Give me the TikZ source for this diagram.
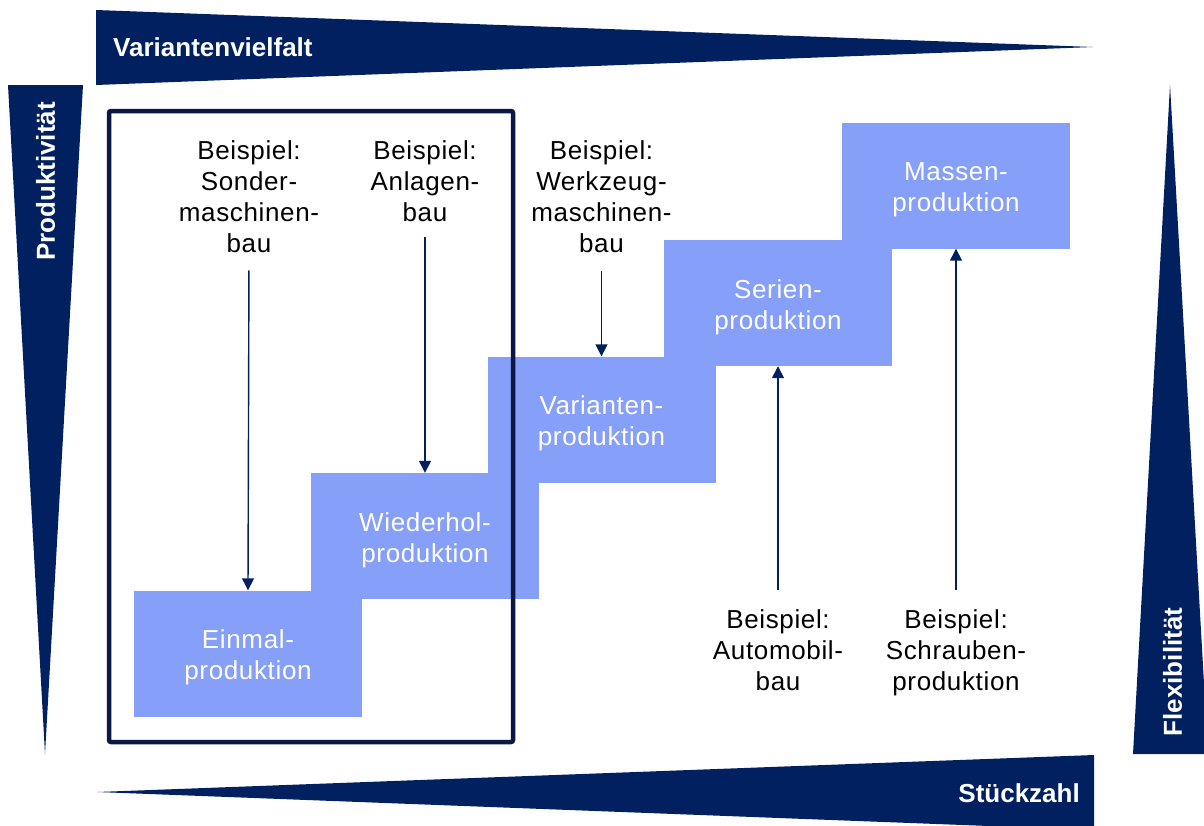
\documentclass[tikz,border=0pt]{standalone}
\usepackage{fontspec}
\setmainfont{Liberation Sans}
\newfontfamily\spacedfont[LetterSpace=2.5]{Liberation Sans}
\usetikzlibrary{arrows.meta}
\definecolor{navy}{HTML}{002060}
\definecolor{stepblue}{HTML}{869FF8}
\definecolor{framenavy}{HTML}{0B1846}
% strut that pushes the two-line stage labels slightly downwards
\newcommand\stagestrut{\rule{0pt}{27pt}}

\begin{document}
\begin{tikzpicture}[x=1pt,y=-1pt,
  wedge/.style={fill=navy},
  axislabel/.style={text=white,inner sep=0pt,font=\fontsize{26}{31}\selectfont\bfseries},
  stage/.style={fill=stepblue,minimum width=228pt,minimum height=126pt,inner sep=0pt,
    text=white,align=center,font=\spacedfont\fontsize{26}{31}\selectfont},
  example/.style={align=center,inner sep=0pt,anchor=north,font=\spacedfont\fontsize{26}{31}\selectfont},
  link/.style={navy,line width=1.4pt,-{Triangle[width=12pt,length=12pt]}},
  frame/.style={framenavy,line width=4.5pt,rounded corners=2pt}
]
\useasboundingbox (0,0) rectangle (1204,825);
\clip (0,0) rectangle (1204,825);

% axis wedges
\fill[wedge] (96,10) -- (1093,47) -- (96,85) -- cycle;
\fill[wedge] (8,85) -- (83,85) -- (45,754) -- cycle;
\fill[wedge] (1170,85) -- (1208,754) -- (1133,754) -- cycle;
\fill[wedge] (97,792) -- (1094,755) -- (1094,830) -- cycle;

\node[axislabel,anchor=west] (vielfalt) at (113,47.5) {Variantenvielfalt};
\node[axislabel,rotate=90] (produkt) at (45.5,181.5) {Produktivität};
\node[axislabel,rotate=90] (flex) at (1172.5,672) {Flexibilität};
\node[axislabel,anchor=east] (stueck) at (1080,793.5) {Stückzahl};

% production stages (staircase)
\node[stage] (einmal)  at (248,653.5) {\stagestrut Einmal-\\produktion};
\node[stage] (wieder)  at (425,536)   {\stagestrut Wiederhol-\\produktion};
\node[stage] (variant) at (601.5,419.5) {\stagestrut Varianten-\\produktion};
\node[stage] (serie)   at (778,303)   {\stagestrut Serien-\\produktion};
\node[stage] (masse)   at (956,185.5) {\stagestrut Massen-\\produktion};

% frame around the single-unit and repeat production
\draw[frame] (109,111) rectangle (513,742);

% examples
\node[example] (sonder) at (249,140) {Beispiel:\\Sonder-\\maschinen-\\bau};
\node[example] (anlage) at (425,140) {Beispiel:\\Anlagen-\\bau};
\node[example] (werkz)  at (601.5,140) {Beispiel:\\Werkzeug-\\maschinen-\\bau};
\node[example] (auto)   at (778,609) {Beispiel:\\Automobil-\\bau};
\node[example] (schraube) at (956,609) {Beispiel:\\Schrauben-\\produktion};

\draw[link,shorten <=18pt] (sonder.south) -- (einmal.north);
\draw[link,shorten <=16pt] (anlage.south) -- (wieder.north);
\draw[link,shorten <=19pt] (werkz.south) -- (variant.north);
\draw[link,shorten <=19pt] (auto.north) -- (serie.south);
\draw[link,shorten <=19pt] (schraube.north) -- (masse.south);
\end{tikzpicture}
\end{document}
